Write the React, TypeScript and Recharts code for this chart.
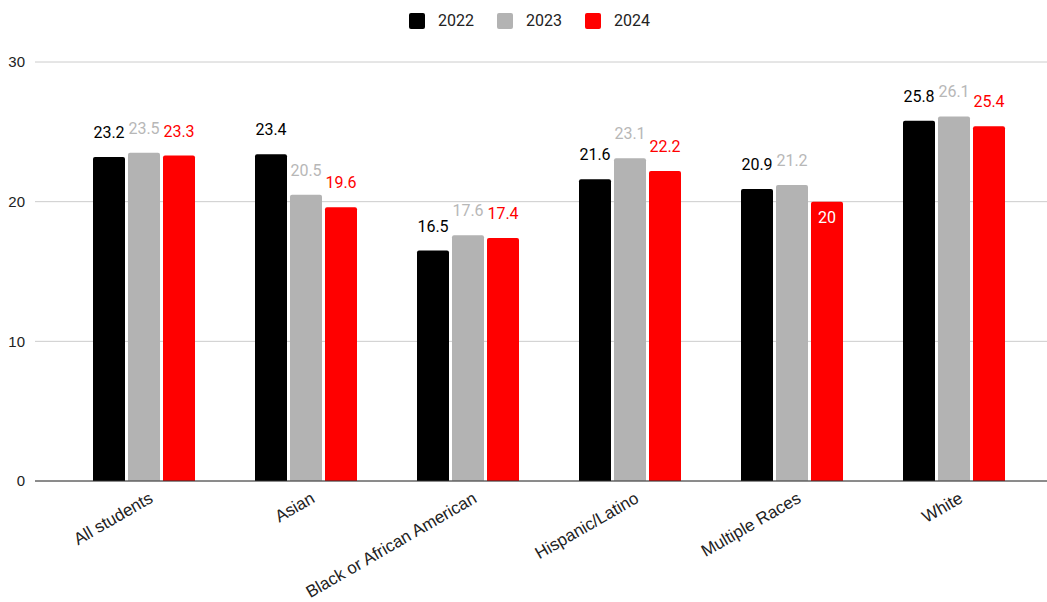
import { BarChart, Bar, XAxis, YAxis, CartesianGrid, LabelList } from "recharts";

const categories = ["All students", "Asian", "Black or African American", "Hispanic/Latino", "Multiple Races", "White"];
const values2022 = [23.2, 23.4, 16.5, 21.6, 20.9, 25.8];
const values2023 = [23.5, 20.5, 17.6, 23.1, 21.2, 26.1];
const values2024 = [23.3, 19.6, 17.4, 22.2, 20, 25.4];
const yTicks = [0, 10, 20, 30];

const series = [
  { key: "y2022", name: "2022", color: "#000000", label: "#000000" },
  { key: "y2023", name: "2023", color: "#b3b3b3", label: "#b7b7b7" },
  { key: "y2024", name: "2024", color: "#ff0000", label: "#ff0000" },
];

// google sheets dropped this one inside the bar
const insideLabel = { y2024: ["Multiple Races"] } as Record<string, string[]>;

const data = categories.map((c, i) => ({
  name: c,
  y2022: values2022[i],
  y2023: values2023[i],
  y2024: values2024[i],
}));

const FONT = "Roboto, Arial, sans-serif";
const AXIS_FONT = "'Liberation Sans', Arial, sans-serif";

const makeLabel = (key: string, color: string) => (props: any) => {
  const { x, y, width, value, index } = props;
  const inside = (insideLabel[key] || []).includes(categories[index]);
  return (
    <text
      x={x + width / 2}
      y={inside ? y + 21 : y - 19}
      textAnchor="middle"
      fill={inside ? "#ffffff" : color}
      fontSize={16}
      fontFamily={FONT}
    >
      {value}
    </text>
  );
};

const CategoryTick = (props: any) => {
  const { x, y, payload } = props;
  return (
    <g transform={`translate(${x + 8},${y + 9})`}>
      <text textAnchor="end" transform="rotate(-30)" fill="#222" fontSize={17} fontFamily={AXIS_FONT} dy={4}>
        {payload.value}
      </text>
    </g>
  );
};

const Legend = () => (
  <div
    style={{
      position: "absolute",
      top: 11,
      left: 6,
      width: 1047,
      display: "flex",
      justifyContent: "center",
      gap: 23,
      fontFamily: FONT,
      fontSize: 16,
      color: "#222",
    }}
  >
    {series.map((s) => (
      <div key={s.key} style={{ display: "flex", alignItems: "center", gap: 13 }}>
        <span style={{ width: 16, height: 16, background: s.color, borderRadius: 2, display: "inline-block" }} />
        <span>{s.name}</span>
      </div>
    ))}
  </div>
);

export default function App() {
  return (
    <div style={{ position: "absolute", left: 0, top: 0, width: 1047, height: 602, background: "#fff", overflow: "hidden" }}>
      <Legend />
      <BarChart
        width={1047}
        height={602}
        data={data}
        margin={{ top: 62, right: 0, bottom: 0, left: 0 }}
        barCategoryGap={30}
        barGap={3}
      >
        <CartesianGrid vertical={false} stroke="#cccccc" />
        <XAxis
          dataKey="name"
          height={121}
          interval={0}
          padding={{ left: 28, right: 12 }}
          tickLine={false}
          axisLine={{ stroke: "#333333" }}
          tick={<CategoryTick />}
        />
        <YAxis
          width={35}
          domain={[0, 30]}
          ticks={yTicks}
          tickLine={false}
          axisLine={false}
          tickMargin={4}
          tick={{ fill: "#222", fontSize: 15, fontFamily: AXIS_FONT }}
        />
        {series.map((s) => (
          <Bar key={s.key} dataKey={s.key} name={s.name} fill={s.color} radius={[2, 2, 0, 0]} isAnimationActive={false}>
            <LabelList dataKey={s.key} content={makeLabel(s.key, s.label)} />
          </Bar>
        ))}
      </BarChart>
    </div>
  );
}
